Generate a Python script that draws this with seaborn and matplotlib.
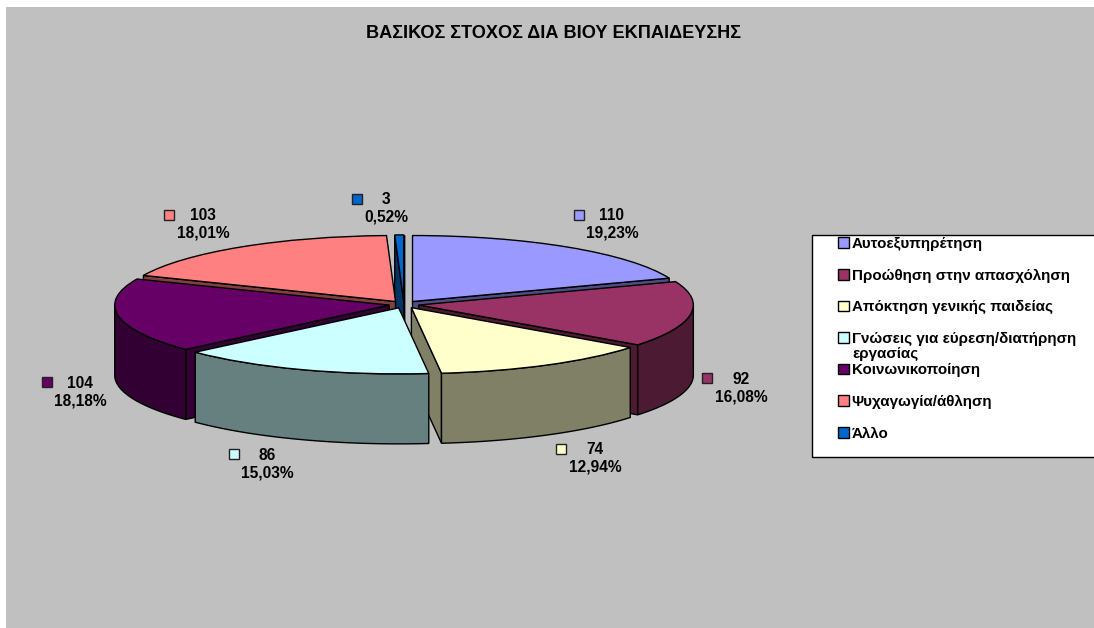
import numpy as np
import matplotlib
matplotlib.use("Agg")
import matplotlib.pyplot as plt
from matplotlib.patches import Polygon, Rectangle
import seaborn as sns

# chart data
title = "ΒΑΣΙΚΟΣ ΣΤΟΧΟΣ ΔΙΑ ΒΙΟΥ ΕΚΠΑΙΔΕΥΣΗΣ"
categories = ["Αυτοεξυπηρέτηση", "Προώθηση στην απασχόληση", "Απόκτηση γενικής παιδείας",
              "Γνώσεις για εύρεση/διατήρηση", "Κοινωνικοποίηση", "Ψυχαγωγία/άθληση", "Άλλο"]
values = [110, 92, 74, 86, 104, 103, 3]
colors = ["#9999FF", "#993366", "#FFFFCC", "#CCFFFF", "#660066", "#FF8080", "#0066CC"]

# layout in image pixels
W, H = 1094, 628
cx, cy = 404, 304.5
rx, ry = 274.5, 66
depth_px = 70
explode_px = 15
square_px = [(579, 215), (707, 378), (561, 449), (234, 454), (47, 382), (169, 215), (357, 199)]
text_px = [(612, 215), (741, 379), (595, 450), (267, 455), (80, 383), (203, 216), (386, 200)]
draw_order = [6, 5, 0, 4, 1, 2, 3]  # back to front

sns.set_theme(style="white")
plt.rcParams["font.family"] = ["Liberation Sans", "DejaVu Sans"]
plt.rcParams["font.weight"] = "bold"
palette = sns.color_palette(colors)

fig = plt.figure(figsize=(W / 100, H / 100), dpi=100, facecolor="white")

# pixel axes for background, labels and legend
px = fig.add_axes([0, 0, 1, 1], zorder=0)
px.set_xlim(0, W)
px.set_ylim(H, 0)
px.axis("off")
px.add_patch(Rectangle((6, 7), W, H, facecolor="#C0C0C0", edgecolor="none"))

# pie axes, squashed so the circle reads as a tilted disc
ax = fig.add_axes([0, 0, 1, 1], zorder=1)
wedges, _ = ax.pie(values, colors=palette, startangle=90, counterclock=False,
                   explode=[explode_px / rx] * len(values),
                   wedgeprops=dict(edgecolor="black", linewidth=1.0))
ax.set_aspect("auto")
ax.set_xlim(-cx / rx, (W - cx) / rx)
ax.set_ylim((cy - H) / ry, cy / ry)

depth = depth_px / ry
for z, i in enumerate(draw_order):
    w = wedges[i]
    side = tuple(c * 0.5 for c in palette[i])
    apex = np.array(w.center)

    def rim_point(deg):
        a = np.radians(deg)
        return apex + w.r * np.array([np.cos(a), np.sin(a)])

    # cut faces, only those turned towards the viewer
    for deg, visible in [(w.theta1, np.cos(np.radians(w.theta1)) > 0),
                         (w.theta2, np.cos(np.radians(w.theta2)) < 0)]:
        if visible:
            p = rim_point(deg)
            ax.add_patch(Polygon([apex, p, p - [0, depth], apex - [0, depth]], closed=True,
                                 facecolor=side, edgecolor="black", linewidth=1.0, zorder=z * 10 + 1))

    # outer wall, front half of the rim only
    degs = np.linspace(w.theta1, w.theta2, 120)
    degs = np.unique(np.append(degs, [d for d in (-360, -180, 0) if w.theta1 < d < w.theta2]))
    degs = degs[np.sin(np.radians(degs)) <= 1e-9]
    if len(degs) > 1:
        rim = np.array([rim_point(d) for d in degs])
        ax.add_patch(Polygon(np.vstack([rim, rim[::-1] - [0, depth]]), closed=True,
                             facecolor=side, edgecolor="black", linewidth=1.0, zorder=z * 10 + 1))
    w.set_zorder(z * 10 + 2)

# data labels with their colour keys
total = sum(values)
for v, c, (sx, sy), (tx, ty) in zip(values, palette, square_px, text_px):
    px.add_patch(Rectangle((sx - 5, sy - 5), 10, 10, facecolor=c, edgecolor="#222222", linewidth=1))
    pct = f"{v / total * 100:.2f}".replace(".", ",")
    px.text(tx, ty, str(v), ha="center", va="center", fontsize=11.2, color="black")
    px.text(tx, ty + 17.5, pct + "%", ha="center", va="center", fontsize=11.2, color="black")

px.text(553.5, 33, title, ha="center", va="center", fontsize=13.1, color="black")

# legend
px.add_patch(Rectangle((812, 235), W, 222, facecolor="white", edgecolor="black", linewidth=1))
leg = px.legend(wedges, categories, loc="upper left", bbox_to_anchor=(838, 237),
                bbox_transform=px.transData, frameon=False, fontsize=10.9, borderpad=0,
                borderaxespad=0, labelspacing=1.16, handlelength=0.72, handleheight=0.72,
                handletextpad=0.18, labelcolor="black")
for h in leg.legend_handles:
    h.set_linewidth(1)
px.text(852, 354, "εργασίας", ha="left", va="center", fontsize=10.9, color="black")

fig.savefig("out.png", dpi=100, facecolor="white")
